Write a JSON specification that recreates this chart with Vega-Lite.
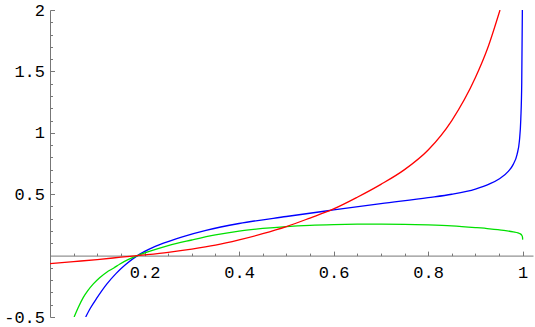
{
  "$schema": "https://vega.github.io/schema/vega-lite/v6.json",
  "width": 483,
  "height": 307,
  "autosize": "none",
  "padding": {"left": 50, "top": 10, "right": 2, "bottom": 10},
  "background": "white",
  "config": {"view": {"stroke": null}},
  "data": {"values": [
    {"s":"blue","x":0.0755,"y":-0.5},{"s":"blue","x":0.085,"y":-0.4305},{"s":"blue","x":0.1,"y":-0.3405},{"s":"blue","x":0.12,"y":-0.2325},{"s":"blue","x":0.14,"y":-0.1445},{"s":"blue","x":0.16,"y":-0.0725},{"s":"blue","x":0.185,"y":0},{"s":"blue","x":0.21,"y":0.0525},{"s":"blue","x":0.24,"y":0.101},{"s":"blue","x":0.28,"y":0.153},{"s":"blue","x":0.33,"y":0.2055},{"s":"blue","x":0.4,"y":0.2615},{"s":"blue","x":0.5,"y":0.3185},{"s":"blue","x":0.6,"y":0.3715},{"s":"blue","x":0.7,"y":0.4235},{"s":"blue","x":0.8,"y":0.4715},{"s":"blue","x":0.85,"y":0.4995},{"s":"blue","x":0.9,"y":0.542},{"s":"blue","x":0.93,"y":0.584},{"s":"blue","x":0.95,"y":0.624},{"s":"blue","x":0.97,"y":0.688},{"s":"blue","x":0.98,"y":0.743},{"s":"blue","x":0.988,"y":0.823},{"s":"blue","x":0.993,"y":0.933},{"s":"blue","x":0.996,"y":1.113},{"s":"blue","x":0.998,"y":1.413},{"s":"blue","x":0.9993,"y":2.0},
    {"s":"green","x":0.051,"y":-0.5},{"s":"green","x":0.06,"y":-0.42},{"s":"green","x":0.0705,"y":-0.34},{"s":"green","x":0.08,"y":-0.285},{"s":"green","x":0.0917,"y":-0.23},{"s":"green","x":0.105,"y":-0.18},{"s":"green","x":0.12,"y":-0.135},{"s":"green","x":0.135,"y":-0.101},{"s":"green","x":0.148,"y":-0.068},{"s":"green","x":0.165,"y":-0.033},{"s":"green","x":0.185,"y":0},{"s":"green","x":0.21,"y":0.034},{"s":"green","x":0.25,"y":0.082},{"s":"green","x":0.3,"y":0.127},{"s":"green","x":0.35,"y":0.168},{"s":"green","x":0.4,"y":0.2},{"s":"green","x":0.45,"y":0.221},{"s":"green","x":0.5,"y":0.236},{"s":"green","x":0.55,"y":0.246},{"s":"green","x":0.6,"y":0.252},{"s":"green","x":0.65,"y":0.2555},{"s":"green","x":0.7,"y":0.2565},{"s":"green","x":0.75,"y":0.255},{"s":"green","x":0.8,"y":0.25},{"s":"green","x":0.85,"y":0.242},{"s":"green","x":0.9,"y":0.228},{"s":"green","x":0.93,"y":0.218},{"s":"green","x":0.96,"y":0.205},{"s":"green","x":0.98,"y":0.193},{"s":"green","x":0.99,"y":0.185},{"s":"green","x":0.995,"y":0.177},{"s":"green","x":0.998,"y":0.166},{"s":"green","x":0.9995,"y":0.152},{"s":"green","x":1.0,"y":0.13},
    {"s":"red","x":0,"y":-0.066},{"s":"red","x":0.05,"y":-0.049},{"s":"red","x":0.1,"y":-0.032},{"s":"red","x":0.15,"y":-0.013},{"s":"red","x":0.2,"y":0.006},{"s":"red","x":0.25,"y":0.027},{"s":"red","x":0.3,"y":0.053},{"s":"red","x":0.35,"y":0.085},{"s":"red","x":0.4,"y":0.128},{"s":"red","x":0.45,"y":0.178},{"s":"red","x":0.5,"y":0.236},{"s":"red","x":0.55,"y":0.306},{"s":"red","x":0.6,"y":0.38},{"s":"red","x":0.65,"y":0.475},{"s":"red","x":0.7,"y":0.58},{"s":"red","x":0.75,"y":0.7},{"s":"red","x":0.8,"y":0.86},{"s":"red","x":0.85,"y":1.1},{"s":"red","x":0.9,"y":1.45},{"s":"red","x":0.925,"y":1.68},{"s":"red","x":0.952,"y":2.0}
  ]},
  "resolve": {"axis": {"x": "independent", "y": "independent"}},
  "layer": [
    {
      "mark": {"type": "point", "opacity": 0},
      "encoding": {
        "x": {"field": "x", "type": "quantitative", "scale": {"domain": [0, 1.0218], "nice": false, "zero": false},
              "axis": {"orient": "bottom", "offset": -61.4, "values": [0.05,0.1,0.15,0.25,0.3,0.35,0.45,0.5,0.55,0.65,0.7,0.75,0.85,0.9,0.95], "labels": false, "domain": false, "grid": false, "tickSize": -2.5, "tickColor": "#777", "tickWidth": 1, "title": null}},
        "y": {"field": "y", "type": "quantitative", "scale": {"domain": [-0.5, 2], "nice": false, "zero": false},
              "axis": {"orient": "left", "values": [-0.4,-0.3,-0.2,-0.1,0.1,0.2,0.3,0.4,0.6,0.7,0.8,0.9,1.1,1.2,1.3,1.4,1.6,1.7,1.8,1.9], "labels": false, "domain": false, "grid": false, "tickSize": -2.5, "tickColor": "#777", "tickWidth": 1, "title": null}}
      }
    },
    {
      "mark": {"type": "line", "interpolate": "monotone", "strokeWidth": 1.3, "clip": true},
      "encoding": {
        "x": {"field": "x", "type": "quantitative",
              "axis": {"orient": "bottom", "offset": -61.4, "values": [0.2,0.4,0.6,0.8,1], "grid": false, "domainColor": "#777", "domainWidth": 1, "tickColor": "#777", "tickWidth": 1, "tickSize": -4.5, "labelPadding": 13, "labelFont": "Liberation Mono", "labelFontSize": 17, "labelColor": "#000", "labelFlush": false, "labelOverlap": false, "labelExpr": "'' + datum.value", "title": null}},
        "y": {"field": "y", "type": "quantitative",
              "axis": {"orient": "left", "values": [-0.5,0.5,1,1.5,2], "grid": false, "domainColor": "#777", "domainWidth": 1, "tickColor": "#777", "tickWidth": 1, "tickSize": -4.5, "labelPadding": 10, "labelFont": "Liberation Mono", "labelFontSize": 17, "labelColor": "#000", "labelFlush": false, "labelOverlap": false, "labelExpr": "'' + datum.value", "title": null}},
        "color": {"field": "s", "type": "nominal", "scale": {"domain": ["blue","green","red"], "range": ["#0000ff","#00e000","#ff0000"]}, "legend": null},
        "order": {"field": "x", "type": "quantitative"}
      }
    }
  ]
}
